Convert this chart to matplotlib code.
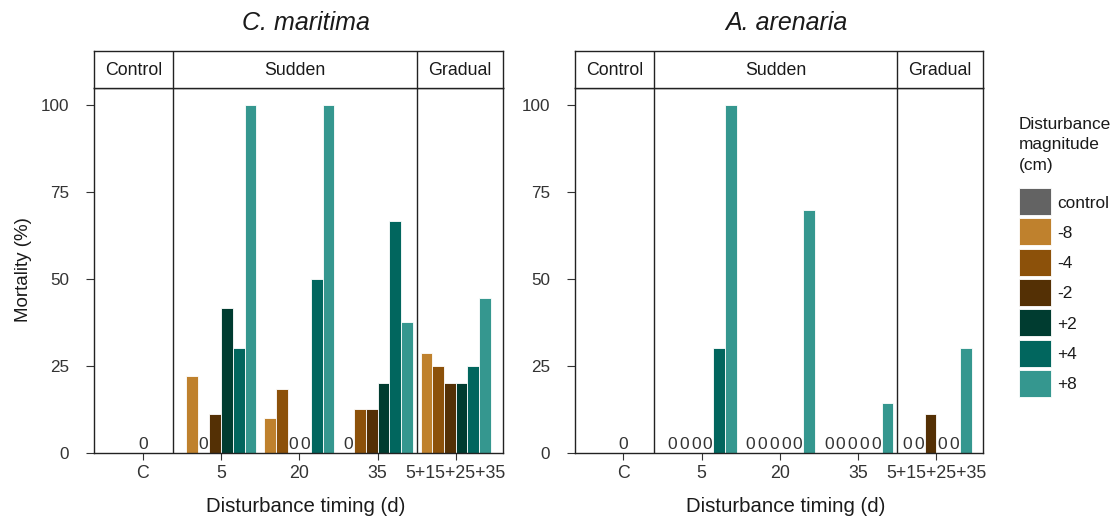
import matplotlib
matplotlib.use("Agg")
import matplotlib.pyplot as plt
from matplotlib.patches import Rectangle

plt.rcParams['font.family'] = ['Liberation Sans', 'DejaVu Sans']

# data (mortality %, per disturbance magnitude)
magnitudes = ['-8', '-4', '-2', '+2', '+4', '+8']
timings = ['C', '5', '20', '35', '5+15+25+35']
colors = ['#BF812D', '#8C510A', '#543005', '#003C30', '#01665E', '#35978F']
control_color = '#636363'

cmar_control = 0
cmar_t5 = [22.2, 0, 11.1, 41.7, 30.0, 100]
cmar_t20 = [10.0, 18.2, 0, 0, 50.0, 100]
cmar_t35 = [0, 12.5, 12.5, 20.0, 66.7, 37.5]
cmar_grad = [28.6, 25.0, 20.0, 20.0, 25.0, 44.4]

aare_control = 0
aare_t5 = [0, 0, 0, 0, 30.0, 100]
aare_t20 = [0, 0, 0, 0, 0, 70.0]
aare_t35 = [0, 0, 0, 0, 0, 14.3]
aare_grad = [0, 0, 11.1, 0, 0, 30.0]

W, H = 1120, 525
fig = plt.figure(figsize=(W / 100, H / 100), dpi=100)


def fx(px):
    return px / W


def fy(py):
    return 1 - py / H


XMIN, XMAX = -0.62, 4.6
DIV1, DIV2 = 0.385, 3.5
TXT = '#1a1a1a'


def panel(left_px, right_px, title, control, groups, ylabel):
    ax = fig.add_axes([fx(left_px), fy(452.7), fx(right_px - left_px), (452.7 - 88) / H])
    bw = 0.15
    ax.bar([0], [control], width=bw, color=control_color, edgecolor='white', linewidth=0.6)
    if control == 0:
        ax.text(0, 0.3, '0', ha='center', va='bottom', fontsize=12.5, color='#333333')
    for gi, vals in enumerate(groups):
        xc = gi + 1
        for i, v in enumerate(vals):
            x = xc + (i - 2.5) * bw
            ax.bar([x], [v], width=bw, color=colors[i], edgecolor='white', linewidth=0.6)
            if v == 0:
                ax.text(x, 0.3, '0', ha='center', va='bottom', fontsize=12.5, color='#333333')
    ax.set_xlim(XMIN, XMAX)
    ax.set_ylim(0, 105)
    for d in (DIV1, DIV2):
        ax.axvline(d, color='#222222', lw=1)
    ax.set_xticks(range(len(timings)))
    ax.set_xticklabels(timings, fontsize=12.8, color='#333333')
    ax.set_yticks([0, 25, 50, 75, 100])
    ax.tick_params(axis='y', labelsize=12.3, colors='#333333', length=6, pad=12)
    ax.tick_params(axis='x', length=5, pad=4, colors='#333333')
    for s in ax.spines.values():
        s.set_color('#222222')
        s.set_linewidth(1)
    if ylabel:
        fig.text(fx(24), fy(270), 'Mortality (%)', rotation=90, ha='center', va='center',
                 fontsize=13.5, color=TXT)
    mid = (left_px + right_px) / 2 + 7
    fig.text(fx(mid), fy(507), 'Disturbance timing (d)', ha='center', va='center',
             fontsize=14.7, color=TXT)
    fig.text(fx(mid), fy(22.7), title, ha='center', va='center', fontsize=18,
             style='italic', color=TXT)

    # strip
    st = fig.add_axes([fx(left_px), fy(88), fx(right_px - left_px), 37 / H])
    st.set_xlim(XMIN, XMAX)
    st.set_ylim(0, 1)
    st.set_xticks([])
    st.set_yticks([])
    for s in st.spines.values():
        s.set_color('#222222')
        s.set_linewidth(1)
    for d in (DIV1, DIV2):
        st.axvline(d, color='#222222', lw=1)
    for lab, a, b in [('Control', XMIN, DIV1), ('Sudden', DIV1, DIV2), ('Gradual', DIV2, XMAX)]:
        st.text((a + b) / 2, 0.47, lab, ha='center', va='center', fontsize=12.8, color=TXT)
    return ax


panel(94.3, 502.7, 'C. maritima', cmar_control, [cmar_t5, cmar_t20, cmar_t35, cmar_grad], True)
panel(575, 983.3, 'A. arenaria', aare_control, [aare_t5, aare_t20, aare_t35, aare_grad], False)

# legend
fig.text(fx(1019), fy(117), 'Disturbance\nmagnitude\n(cm)', ha='left', va='top',
         fontsize=12.4, color=TXT, linespacing=1.45)
leg_labels = ['control'] + magnitudes
leg_colors = [control_color] + colors
for i, (lab, c) in enumerate(zip(leg_labels, leg_colors)):
    top = 188 + i * 30.3
    fig.patches.append(Rectangle((fx(1019), fy(top + 27)), fx(32), 27 / H,
                                 transform=fig.transFigure, facecolor=c, edgecolor='white', lw=0.6))
    fig.text(fx(1057), fy(top + 15), lab, ha='left', va='center', fontsize=12.4, color=TXT)

fig.savefig('out.png', dpi=100)
